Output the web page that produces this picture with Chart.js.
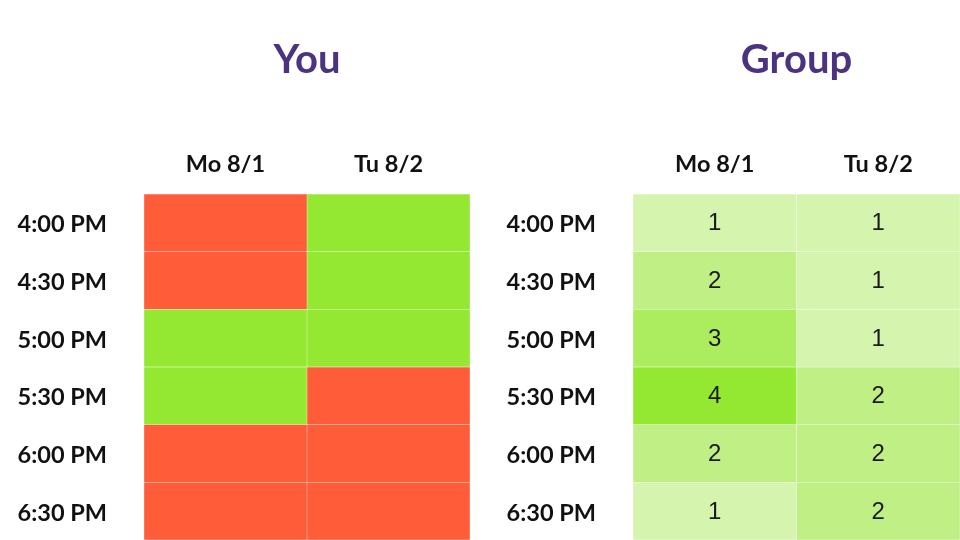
<!DOCTYPE html>
<html><head><meta charset="utf-8">
<script src="https://cdn.jsdelivr.net/npm/chart.js@4"></script>
<style>
html,body{margin:0;padding:0;background:#fff;width:960px;height:540px;overflow:hidden}
canvas{position:absolute;top:0}
#c1{left:0}
#c2{left:489px}
</style></head><body>
<canvas id="c1" width="470" height="540"></canvas>
<canvas id="c2" width="471" height="540"></canvas>
<script>
const times = ['4:00 PM','4:30 PM','5:00 PM','5:30 PM','6:00 PM','6:30 PM'];
const days = ['Mo 8/1','Tu 8/2'];
const youMo = [0,0,1,1,0,0];
const youTu = [1,1,1,0,0,0];
const groupMo = [1,2,3,4,2,1];
const groupTu = [1,1,1,2,2,2];
const youColors = ['#FF5C39','#95E832'];
const groupColors = ['#FFFFFF','#D5F5AE','#C0EF85','#ACEC5F','#95E832'];

const cellText = {
  id:'cellText',
  afterDatasetsDraw(chart, args, opts){
    if(!opts.show) return;
    const ctx = chart.ctx;
    ctx.save();
    ctx.font = '24px "Liberation Sans", Arial, sans-serif';
    ctx.fillStyle = '#1a1a1a';
    ctx.textAlign = 'center';
    ctx.textBaseline = 'middle';
    chart.data.datasets.forEach((ds,i)=>{
      const meta = chart.getDatasetMeta(i);
      meta.data.forEach((bar,j)=>{
        const p = bar.getProps(['x','y','base'], true);
        ctx.fillText(String(ds.vals[j]), (p.x+p.base)/2, p.y+1);
      });
    });
    ctx.restore();
  }
};

function make(id, title, mo, tu, colors, showNums){
  const tickFont = {family:'Lato', size:23.5, weight:'bold'};
  return new Chart(document.getElementById(id), {
    type:'bar',
    data:{
      labels: times,
      datasets:[
        {data: times.map(()=>[0,1]), vals: mo, backgroundColor: mo.map(v=>colors[v]),
         borderColor:'rgba(255,255,255,0.25)', borderWidth:0.5, borderSkipped:false},
        {data: times.map(()=>[1,2]), vals: tu, backgroundColor: tu.map(v=>colors[v]),
         borderColor:'rgba(255,255,255,0.25)', borderWidth:0.5, borderSkipped:false}
      ]
    },
    options:{
      indexAxis:'y',
      responsive:false,
      animation:false,
      grouped:false,
      categoryPercentage:1,
      barPercentage:1,
      layout:{padding:0},
      plugins:{
        legend:{display:false},
        tooltip:{enabled:false},
        title:{display:true, text:title, fullSize:false, color:'#4B3382',
               font:{family:'Lato', size:40, weight:'bold'}, padding:{top:36,bottom:34}},
        cellText:{show:showNums}
      },
      scales:{
        x:{type:'linear', min:0, max:2, display:false},
        x2:{type:'category', axis:'x', labels:days, position:'top', offset:true,
            grid:{display:false, drawTicks:false}, border:{display:false},
            ticks:{font:tickFont, color:'#111', padding:15},
            afterFit(s){ s.height = 76; s.paddingLeft = 0; s.paddingRight = 0; }},
        y:{grid:{display:false, drawTicks:false}, border:{display:false},
           ticks:{font:tickFont, color:'#111', padding:37, labelOffset:2},
           afterFit(s){ s.width = 144; s.paddingTop = 0; s.paddingBottom = 0; }}
      }
    },
    plugins:[cellText]
  });
}
make('c1','You',youMo,youTu,youColors,false);
make('c2','Group',groupMo,groupTu,groupColors,true);
</script>
</body></html>
